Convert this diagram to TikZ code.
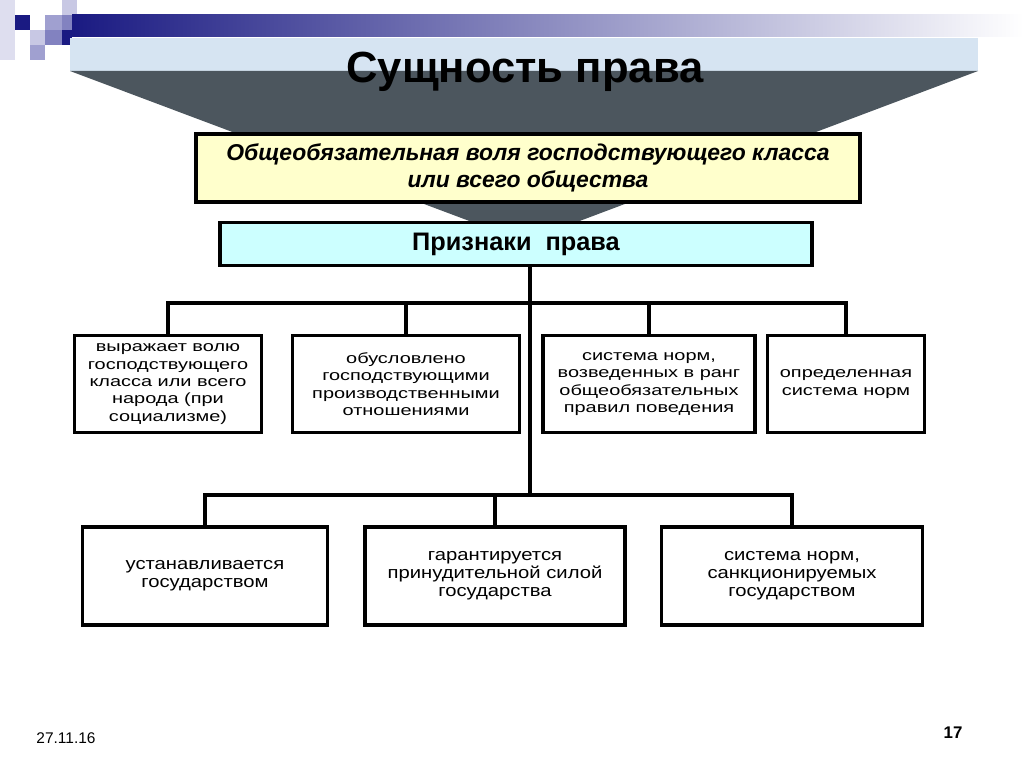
\documentclass[tikz,border=0pt]{standalone}
\usepackage{fontspec}
\setmainfont{Liberation Sans}
\newfontfamily\widefont[FakeStretch=1.35]{Liberation Sans}
\newfontfamily\midfont[FakeStretch=1.2]{Liberation Sans}
\definecolor{hdnavy}{RGB}{26,26,130}
\definecolor{lav1}{RGB}{200,200,228}
\definecolor{lav2}{RGB}{160,160,208}
\definecolor{lav3}{RGB}{130,130,192}
\definecolor{bandblue}{RGB}{214,228,242}
\definecolor{funnelgray}{RGB}{76,86,94}
\definecolor{willyellow}{RGB}{255,255,204}
\definecolor{signcyan}{RGB}{204,255,255}
\tikzset{
  box/.style 2 args={draw, line width=2.4pt, fill=white, align=center,
    minimum width=#1*0.025cm, minimum height=#2*0.025cm, inner sep=2pt},
  conn/.style={line width=2.4pt},
}
\begin{document}
\begin{tikzpicture}[x=0.025cm, y=-0.025cm]
 \useasboundingbox (0,0) rectangle (1024,768);
 % header
 \fill[lav1!60] (0,0) rectangle (15,60);
 \fill[lav1] (62,0) rectangle (77,15);
 \fill[hdnavy] (15,15) rectangle (30,30);
 \fill[lav2] (45,15) rectangle (62,30);
 \fill[lav3] (62,15) rectangle (77,30);
 \fill[lav1] (30,30) rectangle (45,45);
 \fill[lav3] (45,30) rectangle (62,45);
 \fill[lav2] (30,45) rectangle (45,60);
 \shade[left color=hdnavy, middle color=hdnavy!45!white, right color=white] (72,15) rectangle (1024,37);
 \fill[hdnavy] (62,30) rectangle (72,45);
 % funnel
 \fill[bandblue] (70,38) rectangle (978,71);
 \fill[funnelgray] (70,71) -- (978,71) -- (577,222) -- (472,222) -- cycle;
 \node[font=\bfseries\fontsize{31}{35}\selectfont] (title) at (525,72) {Сущность права};
 \node[box={664}{68}, fill=willyellow, font=\bfseries\itshape\fontsize{16.3}{19.5}\selectfont] (will) at (528,168)
   {Общеобязательная воля господствующего класса\\или всего общества};
 \node[box={592}{43}, fill=signcyan, font=\bfseries\fontsize{18}{21}\selectfont] (signs) at (516,244) {Признаки\ \ права};
 % first row
 \node[box={187}{97}, font=\widefont\fontsize{10.5}{12.4}\selectfont] (s1) at (168,384)
   {выражает волю\\господствующего\\класса или всего\\народа (при\\социализме)};
 \node[box={227}{97}, font=\widefont\fontsize{10.5}{12.4}\selectfont] (s2) at (406,384)
   {обусловлено\\господствующими\\производственными\\отношениями};
 \node[box={212}{97}, font=\widefont\fontsize{10.5}{12.4}\selectfont] (s3) at (649,384)
   {система норм,\\возведенных в ранг\\общеобязательных\\правил поведения};
 \node[box={157}{97}, font=\widefont\fontsize{10.5}{12.4}\selectfont] (s4) at (846,384)
   {определенная\\система норм};
 % second row
 \node[box={245}{98}, font=\midfont\fontsize{12}{12.8}\selectfont] (g1) at (205,576)
   {устанавливается\\государством};
 \node[box={260}{98}, font=\midfont\fontsize{12}{12.8}\selectfont] (g2) at (495,576)
   {гарантируется\\принудительной силой\\государства};
 \node[box={261}{98}, font=\midfont\fontsize{12}{12.8}\selectfont] (g3) at (792,576)
   {система норм,\\санкционируемых\\государством};
 % tree
 \coordinate (hub1) at (530,303);
 \coordinate (hub2) at (530,495);
 \draw[conn] (signs.south -| hub1) -- (hub2);
 \draw[conn] (s1.north) |- (hub1) -| (s4.north);
 \draw[conn] (s2.north) -- (s2.north |- hub1);
 \draw[conn] (s3.north) -- (s3.north |- hub1);
 \draw[conn] (g1.north) |- (hub2) -| (g3.north);
 \draw[conn] (g2.north) -- (g2.north |- hub2);
 % footer
 \node[font=\fontsize{11}{13}\selectfont] (date) at (66,738) {27.11.16};
 \node[font=\bfseries\fontsize{12}{14}\selectfont] (page) at (953,733) {17};
\end{tikzpicture}
\end{document}
